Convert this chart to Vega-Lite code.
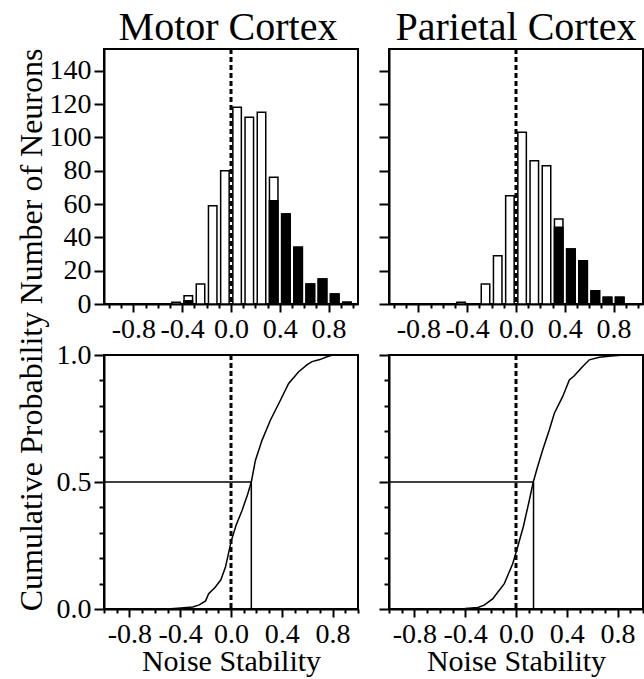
{
  "$schema": "https://vega.github.io/schema/vega-lite/v6.json",
  "autosize": "none",
  "padding": {"left": 104, "top": 49, "right": 540, "bottom": 630},
  "background": "white",
  "datasets": {
    "hist": [
      {"region": "Motor", "center": -0.45, "total": 1, "black": 0},
      {"region": "Motor", "center": -0.35, "total": 5, "black": 2},
      {"region": "Motor", "center": -0.25, "total": 12, "black": 0},
      {"region": "Motor", "center": -0.15, "total": 59, "black": 0},
      {"region": "Motor", "center": -0.05, "total": 80, "black": 0},
      {"region": "Motor", "center": 0.05, "total": 118, "black": 0},
      {"region": "Motor", "center": 0.15, "total": 112, "black": 0},
      {"region": "Motor", "center": 0.25, "total": 115, "black": 0},
      {"region": "Motor", "center": 0.35, "total": 76, "black": 62},
      {"region": "Motor", "center": 0.45, "total": 54, "black": 54},
      {"region": "Motor", "center": 0.55, "total": 34, "black": 34},
      {"region": "Motor", "center": 0.65, "total": 12, "black": 12},
      {"region": "Motor", "center": 0.75, "total": 15, "black": 15},
      {"region": "Motor", "center": 0.85, "total": 6, "black": 6},
      {"region": "Motor", "center": 0.95, "total": 1, "black": 1},
      {"region": "Parietal", "center": -0.45, "total": 1, "black": 0},
      {"region": "Parietal", "center": -0.25, "total": 12, "black": 0},
      {"region": "Parietal", "center": -0.15, "total": 29, "black": 0},
      {"region": "Parietal", "center": -0.05, "total": 65, "black": 0},
      {"region": "Parietal", "center": 0.05, "total": 103, "black": 0},
      {"region": "Parietal", "center": 0.15, "total": 86, "black": 0},
      {"region": "Parietal", "center": 0.25, "total": 83, "black": 0},
      {"region": "Parietal", "center": 0.35, "total": 51, "black": 46},
      {"region": "Parietal", "center": 0.45, "total": 33, "black": 33},
      {"region": "Parietal", "center": 0.55, "total": 26, "black": 26},
      {"region": "Parietal", "center": 0.65, "total": 8, "black": 8},
      {"region": "Parietal", "center": 0.75, "total": 4, "black": 4},
      {"region": "Parietal", "center": 0.85, "total": 4, "black": 4}
    ],
    "cdf": [
      {"region": "Motor", "x": -0.5, "p": 0.0},
      {"region": "Motor", "x": -0.42, "p": 0.003},
      {"region": "Motor", "x": -0.3, "p": 0.008},
      {"region": "Motor", "x": -0.25, "p": 0.016},
      {"region": "Motor", "x": -0.2, "p": 0.032},
      {"region": "Motor", "x": -0.176, "p": 0.06},
      {"region": "Motor", "x": -0.126, "p": 0.085},
      {"region": "Motor", "x": -0.08, "p": 0.115},
      {"region": "Motor", "x": -0.044, "p": 0.164},
      {"region": "Motor", "x": 0.003, "p": 0.27},
      {"region": "Motor", "x": 0.04, "p": 0.33},
      {"region": "Motor", "x": 0.087, "p": 0.388},
      {"region": "Motor", "x": 0.13, "p": 0.45},
      {"region": "Motor", "x": 0.16, "p": 0.5},
      {"region": "Motor", "x": 0.192, "p": 0.585},
      {"region": "Motor", "x": 0.244, "p": 0.664},
      {"region": "Motor", "x": 0.31, "p": 0.743},
      {"region": "Motor", "x": 0.389, "p": 0.822},
      {"region": "Motor", "x": 0.454, "p": 0.888},
      {"region": "Motor", "x": 0.533, "p": 0.934},
      {"region": "Motor", "x": 0.6, "p": 0.962},
      {"region": "Motor", "x": 0.638, "p": 0.974},
      {"region": "Motor", "x": 0.7, "p": 0.982},
      {"region": "Motor", "x": 0.75, "p": 0.992},
      {"region": "Motor", "x": 0.8, "p": 1.0},
      {"region": "Motor", "x": 0.9, "p": 1.0},
      {"region": "Parietal", "x": -0.5, "p": 0.0},
      {"region": "Parietal", "x": -0.4, "p": 0.002},
      {"region": "Parietal", "x": -0.3, "p": 0.006},
      {"region": "Parietal", "x": -0.25, "p": 0.015},
      {"region": "Parietal", "x": -0.184, "p": 0.04},
      {"region": "Parietal", "x": -0.092, "p": 0.1},
      {"region": "Parietal", "x": -0.026, "p": 0.178},
      {"region": "Parietal", "x": 0.013, "p": 0.244},
      {"region": "Parietal", "x": 0.057, "p": 0.323},
      {"region": "Parietal", "x": 0.105, "p": 0.428},
      {"region": "Parietal", "x": 0.136, "p": 0.5},
      {"region": "Parietal", "x": 0.17, "p": 0.56},
      {"region": "Parietal", "x": 0.21, "p": 0.626},
      {"region": "Parietal", "x": 0.262, "p": 0.705},
      {"region": "Parietal", "x": 0.302, "p": 0.771},
      {"region": "Parietal", "x": 0.367, "p": 0.836},
      {"region": "Parietal", "x": 0.42, "p": 0.902},
      {"region": "Parietal", "x": 0.459, "p": 0.918},
      {"region": "Parietal", "x": 0.525, "p": 0.955},
      {"region": "Parietal", "x": 0.577, "p": 0.981},
      {"region": "Parietal", "x": 0.656, "p": 0.991},
      {"region": "Parietal", "x": 0.75, "p": 0.996},
      {"region": "Parietal", "x": 0.85, "p": 1.0},
      {"region": "Parietal", "x": 0.9, "p": 1.0}
    ],
    "med": [
      {"region": "Motor", "median": 0.16, "left": -1, "half": 0.5, "zero": 0, "origin": 0},
      {"region": "Parietal", "median": 0.138, "left": -1, "half": 0.5, "zero": 0, "origin": 0}
    ]
  },
  "config": {
    "font": "Liberation Serif",
    "view": {"stroke": "black", "strokeWidth": 2},
    "axis": {
      "grid": false, "labelOverlap": false, "tickCount": 100,
      "domainColor": "black", "domainWidth": 2,
      "tickColor": "black", "tickWidth": 2,
      "labelColor": "black", "labelFont": "Liberation Serif", "labelFontSize": 28,
      "titleColor": "black", "titleFont": "Liberation Serif", "titleFontSize": 32, "titleFontWeight": "normal"
    },
    "title": {"font": "Liberation Serif", "fontSize": 40, "fontWeight": "normal", "color": "black"}
  },
  "columns": 2,
  "bounds": "flush",
  "spacing": {"row": 51, "column": 31},
  "concat": [
    {
      "width": 254, "height": 255,
      "title": {"text": "Motor Cortex", "offset": 0, "dx": -3},
      "data": {"name": "hist"},
      "transform": [{"filter": "datum.region == 'Motor'"}],
      "layer": [
        {
          "mark": {"type": "bar", "orient": "vertical", "size": 8.5, "fill": "white", "stroke": "black", "strokeWidth": 1.5},
          "encoding": {
            "x": {"field": "center", "type": "quantitative", "scale": {"domain": [-1, 1], "nice": false},
              "axis": {"title": null, "tickCount": 100, "values": [-1,-0.9,-0.8,-0.7,-0.6,-0.5,-0.4,-0.3,-0.2,-0.1,0,0.1,0.2,0.3,0.4,0.5,0.6,0.7,0.8,0.9,1],
                "labelExpr": "round(datum.value*10) % 4 == 0 ? replace(format(datum.value, '.1f'), '\u2212', '-') : ''",
                "tickSize": {"condition": {"test": "round(datum.value*10) % 4 == 0", "value": 8}, "value": 4},
                "labelPadding": 3, "labelFlush": false, "labelOverlap": false}},
            "y": {"field": "total", "type": "quantitative", "scale": {"domain": [0, 153], "nice": false},
              "axis": {"title": "Number of Neurons", "tickCount": 100, "values": [0,20,40,60,80,100,120,140], "tickSize": 10, "labelPadding": 3, "labelOverlap": false,
                "titleX": -63, "titleY": 127, "titleBaseline": "alphabetic", "titleAlign": "center", "titleAngle": -90}}
          }
        },
        {
          "transform": [{"filter": "datum.black > 0"}],
          "mark": {"type": "bar", "orient": "vertical", "size": 8.5, "fill": "black", "stroke": "black", "strokeWidth": 1.5},
          "encoding": {
            "x": {"field": "center", "type": "quantitative"},
            "y": {"field": "black", "type": "quantitative"}
          }
        },
        {
          "data": {"values": [{"origin": 0}]},
          "mark": {"type": "rule", "strokeDash": [5, 3], "strokeWidth": 3, "color": "black"},
          "encoding": {"x": {"field": "origin", "type": "quantitative"}}
        }
      ]
    },
    {
      "width": 254, "height": 255,
      "title": {"text": "Parietal Cortex", "offset": 0, "dx": 0},
      "data": {"name": "hist"},
      "transform": [{"filter": "datum.region == 'Parietal'"}],
      "layer": [
        {
          "mark": {"type": "bar", "orient": "vertical", "size": 8.5, "fill": "white", "stroke": "black", "strokeWidth": 1.5},
          "encoding": {
            "x": {"field": "center", "type": "quantitative", "scale": {"domain": [-1, 1], "nice": false},
              "axis": {"title": null, "tickCount": 100, "values": [-1,-0.9,-0.8,-0.7,-0.6,-0.5,-0.4,-0.3,-0.2,-0.1,0,0.1,0.2,0.3,0.4,0.5,0.6,0.7,0.8,0.9,1],
                "labelExpr": "round(datum.value*10) % 4 == 0 ? replace(format(datum.value, '.1f'), '\u2212', '-') : ''",
                "tickSize": {"condition": {"test": "round(datum.value*10) % 4 == 0", "value": 8}, "value": 4},
                "labelPadding": 3, "labelFlush": false, "labelOverlap": false}},
            "y": {"field": "total", "type": "quantitative", "scale": {"domain": [0, 153], "nice": false},
              "axis": {"title": null, "labels": false, "tickCount": 100, "values": [0,20,40,60,80,100,120,140], "tickSize": 10}}
          }
        },
        {
          "transform": [{"filter": "datum.black > 0"}],
          "mark": {"type": "bar", "orient": "vertical", "size": 8.5, "fill": "black", "stroke": "black", "strokeWidth": 1.5},
          "encoding": {
            "x": {"field": "center", "type": "quantitative"},
            "y": {"field": "black", "type": "quantitative"}
          }
        },
        {
          "data": {"values": [{"origin": 0}]},
          "mark": {"type": "rule", "strokeDash": [5, 3], "strokeWidth": 3, "color": "black"},
          "encoding": {"x": {"field": "origin", "type": "quantitative"}}
        }
      ]
    },
    {
      "width": 254, "height": 254,
      "layer": [
        {
          "data": {"name": "cdf"},
          "transform": [{"filter": "datum.region == 'Motor'"}],
          "mark": {"type": "line", "color": "black", "strokeWidth": 1.5},
          "encoding": {
            "x": {"field": "x", "type": "quantitative", "scale": {"domain": [-1, 1], "nice": false},
              "axis": {"title": "Noise Stability", "tickCount": 100, "values": [-1,-0.9,-0.8,-0.7,-0.6,-0.5,-0.4,-0.3,-0.2,-0.1,0,0.1,0.2,0.3,0.4,0.5,0.6,0.7,0.8,0.9,1],
                "labelExpr": "round(datum.value*10) % 4 == 0 ? replace(format(datum.value, '.1f'), '\u2212', '-') : ''",
                "tickSize": {"condition": {"test": "round(datum.value*10) % 4 == 0", "value": 8}, "value": 4},
                "labelPadding": 3, "labelFlush": false, "labelOverlap": false, "titleY": 61, "titleFontSize": 30, "titleBaseline": "alphabetic"}},
            "y": {"field": "p", "type": "quantitative", "scale": {"domain": [0, 1], "nice": false},
              "axis": {"title": "Cumulative Probability", "tickCount": 100, "values": [0,0.1,0.2,0.3,0.4,0.5,0.6,0.7,0.8,0.9,1],
                "labelExpr": "round(datum.value*10) % 5 == 0 ? format(datum.value, '.1f') : ''",
                "tickSize": {"condition": {"test": "round(datum.value*10) % 5 == 0", "value": 10}, "value": 5},
                "labelPadding": 3, "labelOverlap": false, "titleX": -63, "titleY": 106, "titleBaseline": "alphabetic", "titleAlign": "center", "titleAngle": -90}}
          }
        },
        {
          "data": {"name": "med"},
          "transform": [{"filter": "datum.region == 'Motor'"}],
          "layer": [
            {"mark": {"type": "rule", "strokeDash": [5, 3], "strokeWidth": 3, "color": "black"},
             "encoding": {"x": {"field": "origin", "type": "quantitative"}}},
            {"mark": {"type": "rule", "strokeWidth": 1.5, "color": "black"},
             "encoding": {"x": {"field": "left", "type": "quantitative"}, "x2": {"field": "median"}, "y": {"field": "half", "type": "quantitative"}}},
            {"mark": {"type": "rule", "strokeWidth": 1.5, "color": "black"},
             "encoding": {"x": {"field": "median", "type": "quantitative"}, "y": {"field": "zero", "type": "quantitative"}, "y2": {"field": "half"}}}
          ]
        }
      ]
    },
    {
      "width": 254, "height": 254,
      "layer": [
        {
          "data": {"name": "cdf"},
          "transform": [{"filter": "datum.region == 'Parietal'"}],
          "mark": {"type": "line", "color": "black", "strokeWidth": 1.5},
          "encoding": {
            "x": {"field": "x", "type": "quantitative", "scale": {"domain": [-1, 1], "nice": false},
              "axis": {"title": "Noise Stability", "tickCount": 100, "values": [-1,-0.9,-0.8,-0.7,-0.6,-0.5,-0.4,-0.3,-0.2,-0.1,0,0.1,0.2,0.3,0.4,0.5,0.6,0.7,0.8,0.9,1],
                "labelExpr": "round(datum.value*10) % 4 == 0 ? replace(format(datum.value, '.1f'), '\u2212', '-') : ''",
                "tickSize": {"condition": {"test": "round(datum.value*10) % 4 == 0", "value": 8}, "value": 4},
                "labelPadding": 3, "labelFlush": false, "labelOverlap": false, "titleY": 61, "titleFontSize": 30, "titleBaseline": "alphabetic"}},
            "y": {"field": "p", "type": "quantitative", "scale": {"domain": [0, 1], "nice": false},
              "axis": {"title": null, "labels": false, "tickCount": 100, "values": [0,0.1,0.2,0.3,0.4,0.5,0.6,0.7,0.8,0.9,1],
                "tickSize": {"condition": {"test": "round(datum.value*10) % 5 == 0", "value": 10}, "value": 5}}}
          }
        },
        {
          "data": {"name": "med"},
          "transform": [{"filter": "datum.region == 'Parietal'"}],
          "layer": [
            {"mark": {"type": "rule", "strokeDash": [5, 3], "strokeWidth": 3, "color": "black"},
             "encoding": {"x": {"field": "origin", "type": "quantitative"}}},
            {"mark": {"type": "rule", "strokeWidth": 1.5, "color": "black"},
             "encoding": {"x": {"field": "left", "type": "quantitative"}, "x2": {"field": "median"}, "y": {"field": "half", "type": "quantitative"}}},
            {"mark": {"type": "rule", "strokeWidth": 1.5, "color": "black"},
             "encoding": {"x": {"field": "median", "type": "quantitative"}, "y": {"field": "zero", "type": "quantitative"}, "y2": {"field": "half"}}}
          ]
        }
      ]
    }
  ]
}
